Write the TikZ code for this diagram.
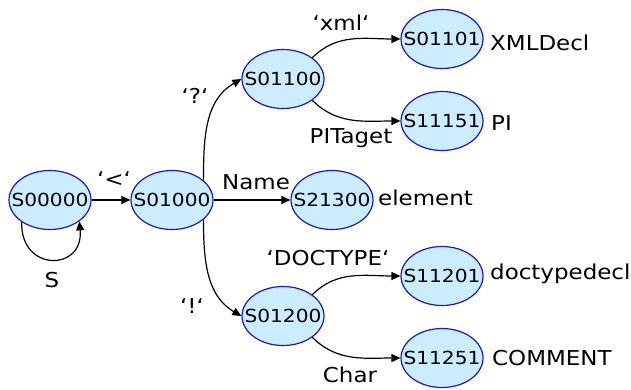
\documentclass[tikz,border=0pt]{standalone}
\usepackage{fontspec}
\setmainfont{DejaVu Sans}[FakeStretch=1.12]
\usetikzlibrary{shapes.geometric,arrows.meta}
\definecolor{statefill}{RGB}{204,236,255}
\definecolor{stateline}{RGB}{24,24,204}
\newcommand\gq{\symbol{96}}
\newcommand\stname[1]{\makebox[0pt]{#1}}
\begin{document}
\begin{tikzpicture}[x=1pt,y=-1pt,
  state/.style={ellipse, draw=stateline, fill=statefill, line width=1.2pt,
    minimum width=82pt, minimum height=59pt, inner sep=0pt,
    font=\fontsize{18}{20}\selectfont},
  txt/.style={inner sep=0pt, font=\fontsize{20.5}{24}\selectfont},
  edge/.style={line width=1.2pt, -{Triangle[length=9pt,width=8pt]}}]
\useasboundingbox (0,0) rectangle (631,389);

% states
\node[state] (s0)  at (50,200)  {\stname{S00000}};
\node[state] (s1)  at (172,200) {\stname{S01000}};
\node[state] (s2)  at (283,79)  {\stname{S01100}};
\node[state] (s3)  at (442,39)  {\stname{S01101}};
\node[state] (s4)  at (442,121) {\stname{S11151}};
\node[state] (s21) at (332,200) {\stname{S21300}};
\node[state] (s5)  at (283,316) {\stname{S01200}};
\node[state] (s6)  at (442,276) {\stname{S11201}};
\node[state] (s7)  at (442,358) {\stname{S11251}};

% results beside the final states
\node[txt, anchor=base west] (r3)  at (490,50)  {XMLDecl};
\node[txt, anchor=base west] (r4)  at (491,130) {PI};
\node[txt, anchor=base west] (r21) at (378,205) {element};
\node[txt, anchor=base west] (r6)  at (490,279) {doctypedecl};
\node[txt, anchor=base west] (r7)  at (492,365) {COMMENT};

% transitions
\draw[edge] (s0.-142) .. controls (20,272) and (84,272) .. (s0.-36);
\draw[edge] (s0) -- (s1);
\draw[edge] (s1) -- (s21);
\draw[edge] (s1.32) to[out=90, in=210] (s2.west);
\draw[edge] (s1.-32) to[out=-90, in=150] (s5.west);
\draw[edge] (s2.36) to[out=45, in=180] (s3.west);
\draw[edge] (s2.-36) to[out=-45, in=180] (s4.west);
\draw[edge] (s5.36) to[out=45, in=180] (s6.west);
\draw[edge] (s5.-36) to[out=-45, in=180] (s7.west);

% transition labels
\node[txt, anchor=base] (lS)   at (52,287)  {S};
\node[txt, anchor=base] (llt)  at (114,186) {\gq<\gq};
\node[txt, anchor=base west] (lname) at (222,189) {Name};
\node[txt, anchor=base] (lq)   at (195,103) {\gq?\gq};
\node[txt, anchor=base] (lex)  at (192,313) {\gq!\gq};
\node[txt, anchor=base] (lxml) at (341,30)  {\gq xml\gq};
\node[txt, anchor=base] (lpi)  at (351,143) {PITaget};
\node[txt, anchor=base] (ldt)  at (328,265) {\gq DOCTYPE\gq};
\node[txt, anchor=base] (lch)  at (350,382) {Char};
\end{tikzpicture}
\end{document}
